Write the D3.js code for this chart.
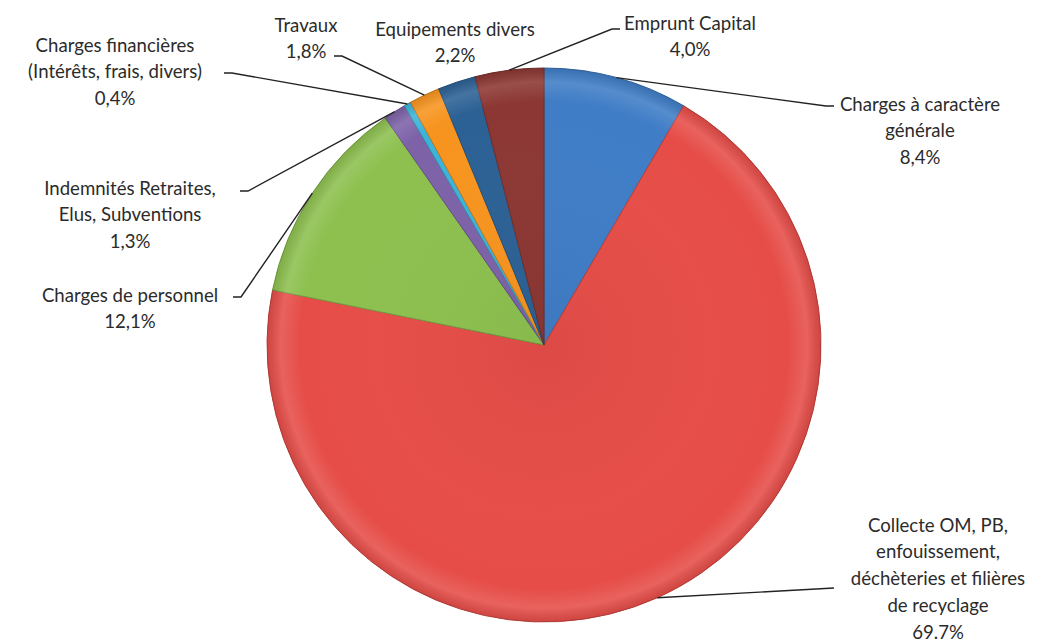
<!DOCTYPE html>
<html><head><meta charset="utf-8">
<script src="https://cdn.jsdelivr.net/npm/d3@7"></script>
<style>
html,body{margin:0;padding:0;background:#fff;}
svg{display:block;font-family:Lato,"Open Sans",sans-serif;}
</style></head>
<body>
<svg id="c" width="1040" height="642"></svg>
<script>
// ---- data ----
const categories = [
  "Charges à caractère générale",
  "Collecte OM, PB, enfouissement, déchèteries et filières de recyclage",
  "Charges de personnel",
  "Indemnités Retraites, Elus, Subventions",
  "Charges financières (Intérêts, frais, divers)",
  "Travaux",
  "Equipements divers",
  "Emprunt Capital"
];
const values = [8.4, 69.7, 12.1, 1.3, 0.4, 1.8, 2.2, 4.0];
const valueLabels = ["8,4%", "69.7%", "12,1%", "1,3%", "0,4%", "1,8%", "2,2%", "4,0%"];
const labelLines = [
  ["Charges à caractère", "générale"],
  ["Collecte OM, PB,", "enfouissement,", "déchèteries et filières", "de recyclage"],
  ["Charges de personnel"],
  ["Indemnités Retraites,", "Elus, Subventions"],
  ["Charges financières", "(Intérêts, frais, divers)"],
  ["Travaux"],
  ["Equipements divers"],
  ["Emprunt Capital"]
];
const colors = ["#3f7dc6", "#e64d48", "#8dc04f", "#7d62a8", "#3cb4d8", "#f7941f", "#2c6195", "#8c3733"];

// ---- layout ----
const cx = 544, cy = 345, R = 277;
const labelLayout = [
  {x: 920, y: 104, ax: 834, ay: 106, tick: -8},
  {x: 938, y: 525, ax: 834, ay: 588, tick: 0},
  {x: 130, y: 295, ax: 233, ay: 297, tick: 8},
  {x: 130, y: 188, ax: 240, ay: 191, tick: 8},
  {x: 115, y: 45,  ax: 224, ay: 73,  tick: 8},
  {x: 306, y: 25,  ax: 334, ay: 56,  tick: 8},
  {x: 455, y: 29,  ax: null},
  {x: 690, y: 23,  ax: 620, ay: 29,  tick: -8}
];
const lineH = 26.8;

const svg = d3.select("#c");
const data = categories.map((c, i) => ({cat: c, value: values[i], color: colors[i], i}));

const pie = d3.pie().sort(null).value(d => d.value);
const arcs = pie(data);
const arc = d3.arc().innerRadius(0).outerRadius(R);

const defs = svg.append("defs");
const rg = defs.append("radialGradient").attr("id", "bevel")
  .attr("gradientUnits", "userSpaceOnUse").attr("cx", 0).attr("cy", 0).attr("r", R);
rg.append("stop").attr("offset", "0%").attr("stop-color", "#000").attr("stop-opacity", 0.04);
rg.append("stop").attr("offset", "88%").attr("stop-color", "#fff").attr("stop-opacity", 0.0);
rg.append("stop").attr("offset", "95%").attr("stop-color", "#fff").attr("stop-opacity", 0.12);
rg.append("stop").attr("offset", "100%").attr("stop-color", "#000").attr("stop-opacity", 0.10);

const g = svg.append("g").attr("transform", `translate(${cx},${cy})`);
g.selectAll("path.slice").data(arcs).join("path")
  .attr("class", "slice")
  .attr("d", arc)
  .attr("fill", d => d.data.color)
  .attr("stroke", d => d3.color(d.data.color).darker(0.6))
  .attr("stroke-width", 1);
g.selectAll("path.bev").data(arcs).join("path")
  .attr("class", "bev")
  .attr("d", arc)
  .attr("fill", "url(#bevel)");

// leader lines
const edge = d3.arc().innerRadius(R).outerRadius(R);
arcs.forEach((a, i) => {
  const L = labelLayout[i];
  if (L.ax == null) return;
  const p = edge.centroid(a);
  const pts = [[p[0] + cx, p[1] + cy], [L.ax + L.tick, L.ay], [L.ax, L.ay]];
  svg.append("path")
    .attr("d", d3.line()(pts))
    .attr("fill", "none").attr("stroke", "#222").attr("stroke-width", 1.4);
});

// labels
arcs.forEach((a, i) => {
  const L = labelLayout[i];
  const lines = labelLines[i].concat([valueLabels[i]]);
  const t = svg.append("text")
    .attr("text-anchor", "middle")
    .attr("font-size", 18.6)
    .attr("fill", "#2b2b2b");
  lines.forEach((s, k) => {
    t.append("tspan").attr("x", L.x).attr("y", L.y + k * lineH)
      .attr("dy", "0.35em").text(s);
  });
});
</script>
</body></html>
